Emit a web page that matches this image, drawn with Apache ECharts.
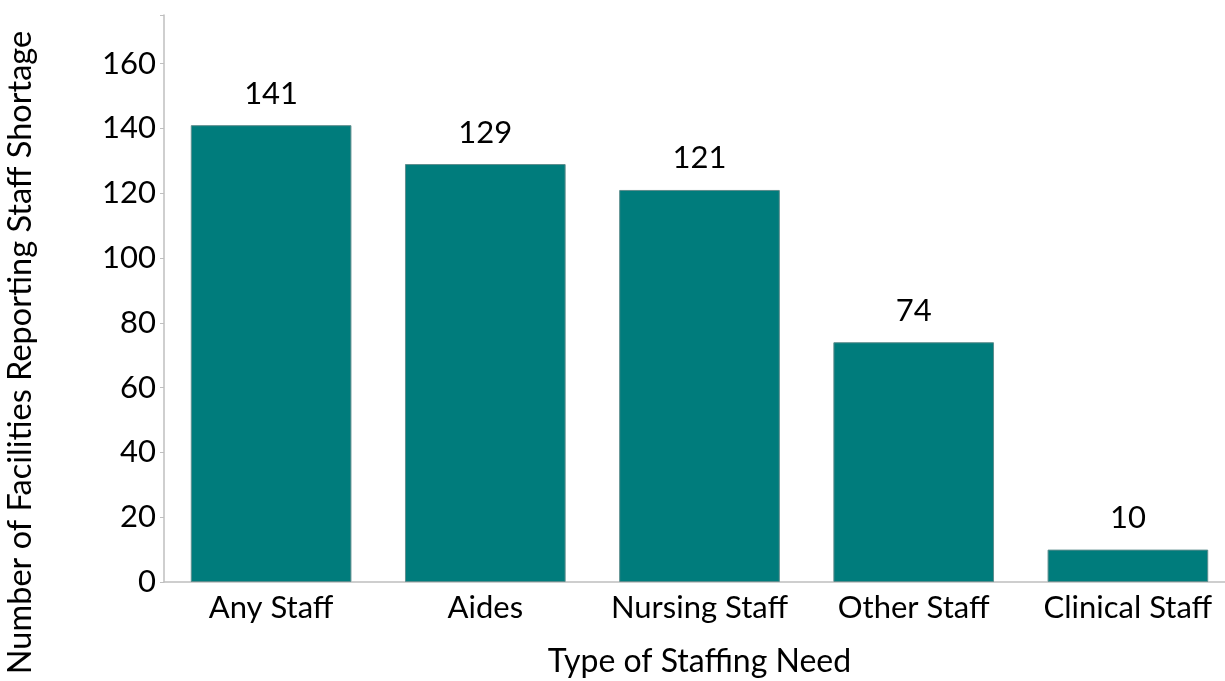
<!DOCTYPE html>
<html><head><meta charset="utf-8">
<script src="https://cdn.jsdelivr.net/npm/echarts@6/dist/echarts.min.js"></script>
<style>html,body{margin:0;padding:0;background:#fff}#c{width:1225px;height:681px}</style>
</head><body><div id="c"></div>
<script>
const categories = ["Any Staff", "Aides", "Nursing Staff", "Other Staff", "Clinical Staff"];
const values = [141, 129, 121, 74, 10];
const yTicks = [0, 20, 40, 60, 80, 100, 120, 140, 160];
const xTitle = "Type of Staffing Need";
const yTitle = "Number of Facilities Reporting Staff Shortage";

const font = "Lato, 'Open Sans', sans-serif";
const chart = echarts.init(document.getElementById('c'), null, {renderer: 'canvas'});
chart.setOption({
  animation: false,
  grid: {left: 164, right: -10, top: 15, bottom: 99, containLabel: false, outerBoundsMode: 'none'},
  xAxis: {
    type: 'category', data: categories,
    name: xTitle, nameLocation: 'middle', nameGap: 64,
    nameTextStyle: {fontSize: 32, color: '#000', fontFamily: font},
    axisLine: {lineStyle: {color: '#BFBFBF', width: 1.5}},
    axisTick: {show: false},
    axisLabel: {fontSize: 31, color: '#000', fontFamily: font, margin: 10, interval: 0}
  },
  yAxis: {
    type: 'value', min: 0, max: 175, interval: 20,
    name: yTitle, nameLocation: 'middle', nameGap: 127, nameRotate: 90,
    nameTextStyle: {fontSize: 32.5, color: '#000', fontFamily: font, padding: [0, 108, 0, 0]},
    axisLine: {show: true, lineStyle: {color: '#BFBFBF', width: 1.5}},
    axisTick: {show: true, length: 4, lineStyle: {color: '#BFBFBF'}},
    splitLine: {show: false},
    axisLabel: {fontSize: 31, color: '#000', fontFamily: font, margin: 8,
      formatter: v => yTicks.includes(v) ? String(v) : ''}
  },
  series: [{
    type: 'bar', data: values, barWidth: '75%',
    itemStyle: {color: '#007C7C', borderColor: '#5E8E8E', borderWidth: 1},
    label: {show: true, position: 'top', distance: 16, fontSize: 31, color: '#000', fontFamily: font}
  }]
});
</script></body></html>
